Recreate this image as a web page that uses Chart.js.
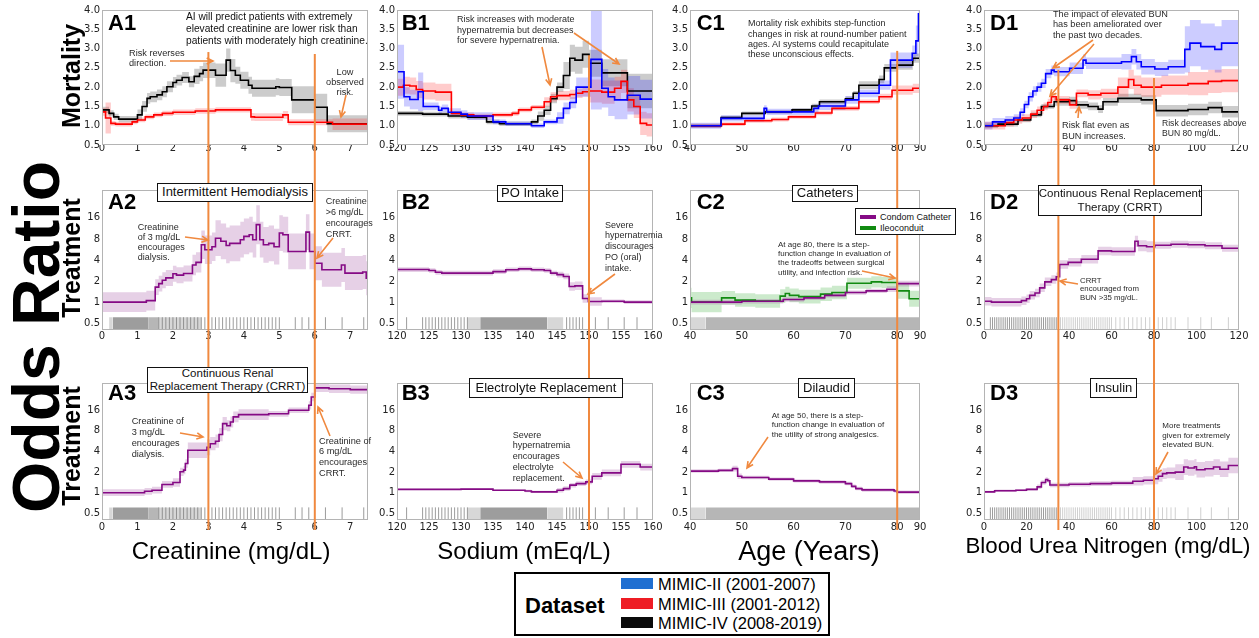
<!DOCTYPE html>
<html>
<head>
<meta charset="utf-8">
<script src="https://cdn.jsdelivr.net/npm/chart.js@4.4.1/dist/chart.umd.min.js"></script>
<style>
  body { margin: 0; width: 1259px; height: 638px; overflow: hidden; position: relative; background: #fff;
         font-family: 'Liberation Sans', Arial, sans-serif; }
  canvas { position: absolute; z-index: 1; }
  #arrows { position: absolute; left: 0; top: 0; z-index: 2; }
  .note { position: absolute; z-index: 3; white-space: pre; color: #2a2a2a; }
  .box { position: absolute; z-index: 3; background: #fff; border: 1px solid #111; box-sizing: border-box;
         display: flex; align-items: center; justify-content: center; text-align: center; white-space: pre; color: #111; }
  .plab { position: absolute; z-index: 3; font-weight: bold; line-height: 1; color: #000; }
  .rot { position: absolute; z-index: 3; font-weight: bold; white-space: nowrap; transform: translate(-50%, -50%) rotate(-90deg); line-height: 1; }
  .xt { position: absolute; z-index: 3; white-space: nowrap; transform: translate(-50%, -50%); line-height: 1; color: #000; }
  #legend { position: absolute; left: 514px; top: 572px; width: 316px; height: 64px; border: 2px solid #000;
            box-sizing: border-box; z-index: 3; background: #fff; }
  #legend .ds { position: absolute; left: 9px; top: 21px; font-weight: bold; font-size: 22px; line-height: 1; }
  #legend .sw { position: absolute; left: 105px; width: 32px; height: 11px; }
  #legend .lt { position: absolute; left: 142px; font-size: 16.5px; line-height: 1; white-space: nowrap; }
  #catleg { position: absolute; left: 855px; top: 208px; width: 101px; height: 27px; border: 1px solid #111;
            box-sizing: border-box; background: #fff; z-index: 3; font-size: 9px; }
  #catleg .sw { position: absolute; left: 4px; width: 16px; height: 4px; }
  #catleg .lt { position: absolute; left: 24px; line-height: 1; white-space: nowrap; color: #111; }
</style>
</head>
<body>
<svg id="arrows" width="1259" height="638"></svg>
<script>
(function () {
  'use strict';

  var FRAME = '#b4b4b4', ORANGE = '#f0893f';
  var BLUE = '#0000ff', RED = '#ff0000', BLACK = '#000000', PURPLE = '#850a85', GREEN = '#118a11';
  var BLUE_BAND = 'rgba(0,0,255,0.2)', RED_BAND = 'rgba(255,0,0,0.2)', BLACK_BAND = 'rgba(0,0,0,0.2)',
      PURPLE_BAND = 'rgba(140,40,140,0.22)', GREEN_BAND = 'rgba(0,150,0,0.2)';

  /* ---------- data: step starts [x, y]; CI as [x, half width] (row 1) or [x, factor] (rows 2-3) ---------- */
  // Row 1: mortality odds ratio
  var a1Red   = [[0,1.36],[0.1,1.2],[0.25,1.06],[0.38,1.04],[0.85,1.1],[1.0,1.15],[1.22,1.23],[1.46,1.28],[1.7,1.32],[2.0,1.35],[2.63,1.38],[3.2,1.41],[4.2,1.23],[4.3,1.22],[5.1,1.28],[5.25,1.09],[6.5,1.04],[7.5,1.04]];
  var a1RedCI = [[0,0.1],[0.1,0.4],[0.25,0.06],[1.5,0.07],[4.2,0.1],[5.25,0.08],[6.5,0.15]];
  var a1Black = [[0,1.41],[0.2,1.32],[0.33,1.23],[0.47,1.17],[1.0,1.28],[1.13,1.5],[1.27,1.71],[1.36,1.75],[1.55,1.8],[1.7,1.88],[1.83,2.01],[2.0,2.12],[2.1,2.18],[2.26,2.25],[2.45,2.14],[2.6,2.28],[2.75,2.35],[2.85,2.44],[3.2,2.31],[3.5,2.7],[3.62,2.43],[3.76,2.31],[3.9,2.18],[4.13,2.05],[4.23,1.97],[4.9,2.01],[5.0,1.99],[5.35,1.67],[6.0,1.48],[6.35,1.05],[7.5,1.06]];
  var a1BlackCI = [[0,0.08],[1.0,0.14],[2.5,0.2],[3.2,0.3],[3.7,0.22],[5.35,0.35],[6.35,0.22]];

  var b1Blue   = [[120,2.4],[121.1,1.75],[122,1.68],[123.3,1.88],[124.1,1.5],[126.5,1.4],[127,1.45],[128,1.35],[130,1.3],[131,1.25],[135,1.1],[137,1.05],[141,1.0],[143,1.1],[145,1.2],[146,1.45],[147,1.6],[148,2.0],[150.3,2.72],[152,1.97],[153,1.75],[154,1.67],[156,1.79],[158,1.69],[160,1.69]];
  var b1BlueCI = [[120,0.7],[121.1,0.25],[123.3,0.5],[124.1,0.1],[135,0.06],[145,0.15],[148,0.25],[150.3,1.3],[151.5,0.5]];
  var b1Red    = [[120,2.0],[121,2.05],[122,2.03],[123,1.94],[124,1.9],[126,1.87],[128.5,1.32],[130,1.28],[132,1.25],[135,1.28],[138,1.32],[139,1.41],[141,1.48],[143,1.62],[144,1.75],[145,1.78],[147,1.81],[148,1.84],[149,1.88],[150,1.9],[152,1.87],[154,1.97],[155,2.15],[156,1.67],[157,1.5],[158,1.06],[159,1.02],[160,1.02]];
  var b1RedCI  = [[120,0.22],[128.5,0.06],[143,0.12],[150,0.3]];
  var b1Black  = [[120,1.32],[124,1.3],[128,1.25],[131,1.22],[134,1.1],[136,1.05],[141,1.1],[142,1.25],[143,1.4],[144,1.7],[145,2.0],[146,2.3],[147,2.75],[147.8,2.7],[149,2.85],[150,2.62],[152,2.37],[156,1.9],[160,1.9]];
  var b1BlackCI = [[120,0.06],[142,0.12],[146,0.35],[156,0.45]];

  var c1Blue   = [[40,1.0],[46,1.19],[54.3,1.45],[54.8,1.36],[63.9,1.45],[64.8,1.51],[70,1.67],[72.6,1.84],[76.5,2.05],[78.7,2.7],[82.9,2.88],[83.6,3.2],[84.1,3.9],[84.4,3.9]];
  var c1BlueCI = [[40,0.08],[60,0.1],[75,0.12],[78.7,0.2],[83,0.4]];
  var c1Red    = [[40,1.0],[46.1,1.04],[50.6,1.13],[55.8,1.16],[59,1.23],[64.2,1.33],[67.4,1.45],[72.6,1.62],[76.5,1.75],[79,1.92],[83,1.97],[84.4,1.97]];
  var c1RedCI  = [[40,0.05],[60,0.06],[74,0.08],[79,0.12]];
  var c1Black  = [[40,1.0],[46,1.21],[50,1.32],[54.5,1.36],[59.7,1.41],[63.5,1.51],[65,1.62],[70,1.7],[71.5,1.84],[72.6,2.05],[76.5,2.2],[77.5,2.5],[80,2.57],[83,2.75],[84.4,2.8]];
  var c1BlackCI = [[40,0.05],[60,0.06],[72,0.1],[78,0.12]];

  var d1Blue   = [[0,1.0],[4,1.1],[10,1.15],[14,1.2],[17,1.35],[19,1.55],[21,1.75],[23,1.9],[25,2.0],[27,2.1],[29,2.35],[31.7,2.44],[33,2.4],[40.3,2.49],[46.6,2.7],[48,2.62],[64.7,2.66],[69.4,2.79],[71.7,2.66],[74,2.53],[80.4,2.47],[86.7,2.53],[94.5,2.98],[96.9,3.14],[102,3.05],[108.6,2.98],[111.8,3.14],[120,3.12]];
  var d1BlueCI = [[0,0.1],[20,0.12],[40,0.15],[60,0.2],[80,0.18],[94.5,0.6]];
  var d1Red    = [[0,1.0],[10,1.08],[14,1.15],[18,1.2],[22,1.3],[25,1.4],[28,1.5],[30,1.6],[31.7,1.75],[34,1.67],[40.3,1.54],[43.5,1.84],[49,1.8],[55,1.84],[63,2.0],[68,2.2],[70.5,2.05],[74,2.0],[83.5,2.05],[96,2.09],[105.5,2.15],[111.8,2.17],[120,2.17]];
  var d1RedCI  = [[0,0.1],[30,0.1],[45,0.12],[60,0.25],[95,0.3]];
  var d1Black  = [[0,1.0],[6.6,1.04],[16,1.15],[22,1.28],[27,1.5],[33,1.62],[40,1.65],[43.5,1.54],[49,1.5],[53.7,1.43],[56,1.62],[63,1.71],[74,1.67],[81,1.39],[96,1.42],[105.5,1.47],[112,1.36],[120,1.36]];
  var d1BlackCI = [[0,0.06],[30,0.1],[60,0.12],[81,0.15]];

  // Row 2: treatment odds ratio
  var a2Hemo   = [[0,1.0],[1.25,1.05],[1.5,1.64],[1.6,1.84],[1.7,2.05],[1.8,2.22],[2.0,2.54],[2.1,2.43],[2.3,2.56],[2.55,3.4],[2.65,3.7],[2.8,6.6],[2.9,5.6],[3.1,6.2],[3.2,8.2],[3.35,7.4],[3.5,6.45],[3.6,6.9],[3.9,7.8],[4.0,8.7],[4.15,9.2],[4.25,7.8],[4.35,12.8],[4.45,7.8],[4.55,6.6],[4.7,6.9],[4.85,6.2],[5.0,9.7],[5.1,9.2],[5.25,5.3],[5.75,10.0],[5.85,5.3],[6.0,3.6],[6.2,2.9],[6.75,3.4],[6.85,2.6],[7.35,2.7],[7.45,2.2],[7.5,2.2]];
  var a2HemoCI = [[0,1.38],[1.5,1.3],[2.5,1.4],[2.8,1.6],[3.2,1.8],[4.35,1.9],[4.45,1.8],[6.0,1.75]];
  var b2Po     = [[120,2.92],[125,2.83],[126,2.67],[127,2.6],[135,2.73],[137,2.9],[139,2.99],[141,2.9],[143,2.83],[144,2.6],[145,2.47],[146,2.33],[146.9,1.67],[147.8,1.71],[149,1.13],[149.9,1.02],[152,1.03],[155.5,1.0],[160,1.0]];
  var b2PoCI   = [[120,1.08],[145,1.1],[146.5,1.15],[150,1.06]];
  var c2Condom = [[40,1.0],[50,1.03],[58,1.09],[62,1.15],[66,1.25],[70,1.37],[74,1.45],[78,1.53],[80,1.84],[84.4,1.84]];
  var c2CondomCI = [[40,1.08],[60,1.07],[75,1.1]];
  var c2Ileo   = [[40,1.15],[40.3,1.0],[46.1,1.15],[48.7,1.07],[52.6,1.04],[57.4,1.22],[58.4,1.33],[59.2,1.25],[61,1.2],[65.2,1.3],[67.4,1.37],[70.3,1.86],[75,1.95],[77,1.91],[80,1.45],[82.3,1.12],[84.4,1.12]];
  var c2IleoCI = [[40,1.4],[46,1.25],[56,1.25],[70,1.2],[80,1.3]];
  var d2Crrt   = [[0,1.03],[3.5,1.0],[17.6,1.05],[20,1.12],[21.5,1.25],[24,1.35],[26.2,1.6],[28.6,1.95],[31.7,2.1],[34,2.3],[35.6,3.45],[39.6,3.7],[45.8,4.1],[53.7,5.4],[60,5.3],[71,7.4],[72.5,6.4],[76.5,6.2],[80.4,6.5],[88,6.7],[96,6.6],[104,6.4],[112,5.9],[120,5.9]];
  var d2CrrtCI = [[0,1.15],[70,1.2],[80,1.12]];

  // Row 3: treatment odds ratio
  var a3Crrt   = [[0,1.0],[1.2,1.05],[1.41,1.09],[1.69,1.32],[2.0,1.41],[2.2,2.02],[2.3,2.14],[2.35,2.67],[2.42,4.18],[2.96,4.6],[3.05,5.2],[3.2,5.65],[3.3,7.07],[3.4,10.2],[3.52,9.5],[3.62,10.8],[3.7,12.8],[3.85,13.8],[4.7,14.2],[5.26,16.0],[5.83,18.9],[5.9,25],[6.0,34],[6.4,33],[7.0,32],[7.5,32]];
  var a3CrrtCI = [[0,1.12],[1.5,1.12],[2.0,1.15],[2.4,1.3],[3.0,1.25],[3.5,1.2],[4.0,1.1],[5.5,1.15]];
  var b3Lytes  = [[120,1.12],[130,1.13],[135,1.09],[140,1.06],[141,1.03],[145,1.09],[146,1.15],[147,1.29],[148,1.36],[149.5,1.44],[150.5,1.74],[152,1.95],[155,2.6],[158,2.37],[160,2.37]];
  var b3LytesCI = [[120,1.02],[140,1.04],[145,1.08],[150,1.12]];
  var c3Dilaudid = [[40,2.07],[45.5,2.12],[48.2,2.25],[49.2,1.74],[50,1.67],[55.2,1.58],[60,1.49],[65,1.44],[70,1.36],[71.2,1.24],[72,1.15],[73.2,1.1],[79.4,1.06],[80,1.02],[84.4,1.02]];
  var c3DilaudidCI = [[40,1.06],[48,1.1],[50,1.06]];
  var d3Insulin = [[0,1.03],[5,1.07],[15,1.09],[20,1.12],[25,1.22],[27,1.41],[29,1.56],[30,1.5],[31,1.3],[40,1.33],[50,1.36],[60,1.38],[70,1.47],[75,1.52],[80,1.6],[82,1.74],[84,1.9],[86,1.95],[90,2.0],[94,2.37],[96,2.3],[99,2.4],[100,2.17],[104,2.24],[108,2.37],[111,2.2],[115,2.5],[120,2.55]];
  var d3InsulinCI = [[0,1.04],[25,1.08],[70,1.15],[80,1.2],[90,1.3]];

  // Rug of observed values: dense ranges [x0, x1, density level 1-3] and single ticks
  var creatRugDense = [[0.2,0.3,1],[0.3,1.3,3],[1.3,1.6,2],[1.6,2.8,1]];
  var creatRugTicks = [1.6,1.7,1.8,1.9,2.0,2.1,2.2,2.3,2.4,2.5,2.6,2.7,2.8,2.9,3.0,3.1,3.2,3.3,3.4,3.5,3.6,3.7,3.8,3.9,4.0,4.1,4.2,4.3,4.4,4.5,4.6,4.7,4.8,4.9,5.0,5.45,5.64,5.83,6.3,6.77,7.38];
  var sodiumRugDense = [[131,133,1],[133,143.5,3],[143.5,146,1]];
  var sodiumRugTicks = [121.5,124,124.5,125,125.5,126,126.5,127,127.5,128,128.5,129,129.5,130,130.5,131,146.5,147,147.5,148,148.5,149,150,151,153,155.5,157.5];
  var ageRugDense = [[40,43,1],[43,84.4,2]];
  var ageRugTicks = [];
  var bunRugDense = [];
  var bunRugTicks = [3,4,5,6,7,8,9,10,11,12,13,14,15,16,17,18,19,20,21,22,23,24,25,26,27,28,29,30,31,32,33,34];
  var bunRugTicksLight = [35,36,37,38,39,40,41,42,43,44,45,46,47,48,49,50,51,52,53,54,55,56,57,58,59,60,62,64,66,68,70,72,74,76,78,80,82,84,86,88,90,96,102,107,115];

  // Axis ticks
  var creatTicks = [0,1,2,3,4,5,6,7];
  var sodiumTicks = [120,125,130,135,140,145,150,155,160];
  var ageTicks = [40,50,60,70,80,84.4];
  var ageTickLabels = ['40','50','60','70','80','90'];
  var bunTicks = [0,20,40,60,80,100,120];
  var mortTicks = [0.5,1.0,1.5,2.0,2.5,3.0,3.5,4.0];
  var orTicks = [0.5,1,2,4,8,16];

  /* ---------- layout ---------- */
  var COLS = [
    { l: 102, r: 368, min: 0, max: 7.5, ticks: creatTicks, guides: [3, 6], tops: [2.91, 2.86] },
    { l: 397, r: 653, min: 120, max: 160, ticks: sodiumTicks, guides: [150], tops: [2.83] },
    { l: 690, r: 920, min: 40, max: 84.4, ticks: ageTicks, labels: ageTickLabels, guides: [80], tops: [2.94] },
    { l: 984, r: 1239, min: 0, max: 120, ticks: bunTicks, guides: [35, 80], tops: [2.45, 2.24] }
  ];
  var ROWS = [
    { t: 10, b: 145, ct: 0, cb: 165, pad: -3 },
    { t: 190, b: 330, ct: 165, cb: 350, pad: 0 },
    { t: 383, b: 520, ct: 350, cb: 540, pad: 1 }
  ];

  Chart.defaults.font.family = "'DejaVu Sans', sans-serif";
  Chart.defaults.font.size = 10;
  Chart.defaults.color = '#222';

  function ciAt(ci, x) {
    var h = ci[0][1];
    ci.forEach(function (c) { if (c[0] <= x) h = c[1]; });
    return h;
  }
  function pts(steps) { return steps.map(function (s) { return { x: s[0], y: s[1] }; }); }

  // confidence band as one closed step outline (upper edge forward, lower edge back)
  function bandShape(steps, ci, log) {
    var up = [], dn = [];
    for (var i = 0; i < steps.length - 1; i++) {
      var h = ciAt(ci, steps[i][0]), v = steps[i][1];
      var hi = log ? v * h : v + h, lo = log ? v / h : v - h;
      up.push({ x: steps[i][0], y: hi }, { x: steps[i + 1][0], y: hi });
      dn.unshift({ x: steps[i + 1][0], y: lo }, { x: steps[i][0], y: lo });
    }
    return up.concat(dn);
  }

  function series(steps, ci, line, fillc, log) {
    return [
      { data: bandShape(steps, ci, log), borderWidth: 0, pointRadius: 0, tension: 0, fill: 'shape',
        backgroundColor: fillc, order: 10 },
      { data: pts(steps), stepped: true, borderColor: line, borderWidth: 1.6, pointRadius: 0, fill: false, order: 1 }
    ];
  }

  var DENSE = { 1: 'rgba(110,110,110,0.28)', 2: 'rgba(110,110,110,0.5)', 3: 'rgba(110,110,110,0.68)' };
  function rug(dense, ticks, light) {
    var out = [];
    dense.forEach(function (d) {
      out.push({ data: [{ x: d[0], y: 0.61 }, { x: d[1], y: 0.61 }], borderWidth: 0, pointRadius: 0,
                 fill: { value: 0.41 }, backgroundColor: DENSE[d[2]], order: 20 });
    });
    [[ticks, 'rgba(90,90,90,0.6)'], [light || [], 'rgba(120,120,120,0.35)']].forEach(function (t) {
      if (!t[0].length) return;
      out.push({ data: t[0].map(function (x) { return { x: x, y: 0.5 }; }), showLine: false,
                 pointStyle: 'line', pointRotation: 90, pointRadius: 6, pointBorderColor: t[1],
                 pointBorderWidth: 1, order: 20 });
    });
    return out;
  }

  var deco = {
    id: 'deco',
    afterDatasetsDraw: function (chart, args, o) {
      var ctx = chart.ctx, a = chart.chartArea, x = chart.scales.x, y = chart.scales.y;
      ctx.save();
      ctx.strokeStyle = FRAME; ctx.lineWidth = 1;
      ctx.strokeRect(Math.round(a.left) + 0.5, Math.round(a.top) + 0.5, Math.round(a.width) - 1, Math.round(a.height) - 1);
      ctx.strokeStyle = ORANGE; ctx.lineWidth = 2;
      o.guides.forEach(function (g, i) {
        var px = x.getPixelForValue(g);
        var y0 = o.row === 0 ? y.getPixelForValue(o.tops[i]) : 0;
        var y1 = o.row === 2 ? a.bottom + 10 : chart.height;
        ctx.beginPath(); ctx.moveTo(px, y0); ctx.lineTo(px, y1); ctx.stroke();
      });
      ctx.restore();
    }
  };

  function panel(ci, ri, datasets) {
    var c = COLS[ci], r = ROWS[ri];
    var cv = document.createElement('canvas');
    var L = c.l - 32, W = c.r + 18 - L, H = r.cb - r.ct;
    cv.width = W; cv.height = H;
    cv.style.left = L + 'px'; cv.style.top = r.ct + 'px';
    document.body.appendChild(cv);
    var yAxis = ri === 0
      ? { type: 'linear', min: 0.5, max: 4.0, ticksList: mortTicks, fmt: function (v) { return v.toFixed(1); } }
      : { type: 'logarithmic', min: 0.4, max: 40, ticksList: orTicks, fmt: function (v) { return String(v); } };
    new Chart(cv, {
      type: 'line',
      data: { datasets: datasets },
      options: {
        responsive: false, animation: false, events: [],
        layout: { padding: { left: 2, right: 18, top: r.t - r.ct, bottom: 0 } },
        elements: { point: { radius: 0 } },
        plugins: { legend: { display: false }, tooltip: { enabled: false },
                   deco: { guides: c.guides, tops: c.tops, row: ri } },
        scales: {
          x: {
            type: 'linear', min: c.min, max: c.max,
            grid: { display: false, drawTicks: false }, border: { display: false },
            afterBuildTicks: function (s) { s.ticks = c.ticks.map(function (v) { return { value: v }; }); },
            afterFit: function (s) { s.height = r.cb - r.b; },
            ticks: { autoSkip: false, maxRotation: 0, padding: r.pad,
                     callback: function (v, i) { return c.labels ? c.labels[i] : String(v); } }
          },
          y: {
            type: yAxis.type, min: yAxis.min, max: yAxis.max,
            grid: { display: false, drawTicks: false }, border: { display: false },
            afterBuildTicks: function (s) { s.ticks = yAxis.ticksList.map(function (v) { return { value: v }; }); },
            afterFit: function (s) { s.width = 30; },
            ticks: { autoSkip: false, padding: 2, callback: function (v) { return yAxis.fmt(v); } }
          }
        }
      },
      plugins: [deco]
    });
  }

  function join() { return [].concat.apply([], arguments); }

  // Row 1
  panel(0, 0, join(series(a1Red, a1RedCI, RED, RED_BAND), series(a1Black, a1BlackCI, BLACK, BLACK_BAND)));
  panel(1, 0, join(series(b1Blue, b1BlueCI, BLUE, BLUE_BAND), series(b1Red, b1RedCI, RED, RED_BAND), series(b1Black, b1BlackCI, BLACK, BLACK_BAND)));
  panel(2, 0, join(series(c1Blue, c1BlueCI, BLUE, BLUE_BAND), series(c1Red, c1RedCI, RED, RED_BAND), series(c1Black, c1BlackCI, BLACK, BLACK_BAND)));
  panel(3, 0, join(series(d1Blue, d1BlueCI, BLUE, BLUE_BAND), series(d1Red, d1RedCI, RED, RED_BAND), series(d1Black, d1BlackCI, BLACK, BLACK_BAND)));
  // Row 2
  panel(0, 1, join(series(a2Hemo, a2HemoCI, PURPLE, PURPLE_BAND, true), rug(creatRugDense, creatRugTicks)));
  panel(1, 1, join(series(b2Po, b2PoCI, PURPLE, PURPLE_BAND, true), rug(sodiumRugDense, sodiumRugTicks)));
  panel(2, 1, join(series(c2Condom, c2CondomCI, PURPLE, PURPLE_BAND, true), series(c2Ileo, c2IleoCI, GREEN, GREEN_BAND, true), rug(ageRugDense, ageRugTicks)));
  panel(3, 1, join(series(d2Crrt, d2CrrtCI, PURPLE, PURPLE_BAND, true), rug(bunRugDense, bunRugTicks, bunRugTicksLight)));
  // Row 3
  panel(0, 2, join(series(a3Crrt, a3CrrtCI, PURPLE, PURPLE_BAND, true), rug(creatRugDense, creatRugTicks)));
  panel(1, 2, join(series(b3Lytes, b3LytesCI, PURPLE, PURPLE_BAND, true), rug(sodiumRugDense, sodiumRugTicks)));
  panel(2, 2, join(series(c3Dilaudid, c3DilaudidCI, PURPLE, PURPLE_BAND, true), rug(ageRugDense, ageRugTicks)));
  panel(3, 2, join(series(d3Insulin, d3InsulinCI, PURPLE, PURPLE_BAND, true), rug(bunRugDense, bunRugTicks, bunRugTicksLight)));

  /* ---------- text annotations (page pixels) ---------- */
  function el(cls, css, text) {
    var d = document.createElement('div');
    d.className = cls; d.textContent = text;
    Object.keys(css).forEach(function (k) { d.style[k] = css[k]; });
    document.body.appendChild(d);
    return d;
  }

  var NOTES = [
    [186, 16.7, 10.2, 12.2, 'AI will predict patients with extremely\nelevated creatinine are lower risk than\npatients with moderately high creatinine.', '#111'],
    [129, 53.3, 9.2, 10.2, 'Risk reverses\ndirection.'],
    [345, 71.7, 9.2, 10.2, 'Low\nobserved\nrisk.', null, 'center'],
    [457, 19.3, 9, 10.7, 'Risk increases with moderate\nhypernatremia but decreases\nfor severe hypernatremia.'],
    [748, 23.3, 9, 10.4, 'Mortality risk exhibits step-function\nchanges in risk at round-number patient\nages. AI systems could recapitulate\nthese unconscious effects.'],
    [1053, 14, 9.2, 10.8, 'The impact of elevated BUN\nhas been ameliorated over\nthe past two decades.'],
    [1062, 125, 9.2, 11, 'Risk flat even as\nBUN increases.'],
    [1162, 124.3, 8.6, 9.8, 'Risk decreases above\nBUN 80 mg/dL.'],
    [137.7, 226.7, 9, 10, 'Creatinine\nof 3 mg/dL\nencourages\ndialysis.'],
    [325.7, 201, 9, 11, 'Creatinine\n>6 mg/dL\nencourages\nCRRT.'],
    [605, 225, 9, 10.8, 'Severe\nhypernatremia\ndiscourages\nPO (oral)\nintake.'],
    [778, 244.3, 8, 9.4, 'At age 80, there is a step-\nfunction change in evaluation of\nthe tradeoffs between surgical\nutility, and infection risk.'],
    [1080, 281, 7.8, 8.4, 'CRRT\nencouraged from\nBUN >35 mg/dL.'],
    [131.7, 421.7, 9.2, 10.9, 'Creatinine of\n3 mg/dL\nencourages\ndialysis.'],
    [319, 441, 9.2, 10.8, 'Creatinine of\n6 mg/dL\nencourages\nCRRT.'],
    [512.7, 435, 9, 10.8, 'Severe\nhypernatremia\nencourages\nelectrolyte\nreplacement.'],
    [771.7, 415.7, 8, 9.3, 'At age 50, there is a step-\nfunction change in evaluation of\nthe utility of strong analgesics.'],
    [1162.3, 426, 8, 9.5, 'More treatments\ngiven for extremely\nelevated BUN.']
  ];
  NOTES.forEach(function (n) {
    var css = { left: n[0] + 'px', top: (n[1] - n[3] / 2) + 'px', fontSize: n[2] + 'px', lineHeight: n[3] + 'px' };
    if (n[5]) css.color = n[5];
    if (n[6] === 'center') { css.textAlign = 'center'; css.transform = 'translateX(-50%)'; }
    el('note', css, n[4]);
  });

  var BOXES = [
    [157, 183, 156, 19, 13, 'Intermittent Hemodialysis'],
    [497, 185, 66, 17, 13, 'PO Intake'],
    [792, 185, 66, 17, 13, 'Catheters'],
    [1038, 185, 164, 31, 11.5, 'Continuous Renal Replacement\nTherapy (CRRT)'],
    [147, 367, 161, 26, 11.5, 'Continuous Renal\nReplacement Therapy (CRRT)'],
    [469, 378, 154, 20, 13, 'Electrolyte Replacement'],
    [798, 378, 57, 20, 13, 'Dilaudid'],
    [1090, 378, 47, 20, 13, 'Insulin']
  ];
  BOXES.forEach(function (b) {
    el('box', { left: b[0] + 'px', top: b[1] + 'px', width: b[2] + 'px', height: b[3] + 'px',
                fontSize: b[4] + 'px', lineHeight: (b[4] * 1.15) + 'px' }, b[5]);
  });

  var PX = [108, 401.7, 696.7, 990], PY = [15, 193.5, 385], PFS = 22;
  ['A', 'B', 'C', 'D'].forEach(function (l, ci) {
    [1, 2, 3].forEach(function (n, ri) {
      el('plab', { left: PX[ci] + 'px', top: (PY[ri] + 0.716 * PFS - 0.8465 * PFS) + 'px', fontSize: PFS + 'px' }, l + n);
    });
  });

  el('rot', { left: '36px', top: '337px', fontSize: '66px' }, 'Odds Ratio');
  el('rot', { left: '71px', top: '76px', fontSize: '25px' }, 'Mortality');
  el('rot', { left: '71px', top: '258px', fontSize: '25px' }, 'Treatment');
  el('rot', { left: '71px', top: '446px', fontSize: '25px' }, 'Treatment');

  el('xt', { left: '231px', top: '551px', fontSize: '24px' }, 'Creatinine (mg/dL)');
  el('xt', { left: '524px', top: '551px', fontSize: '24px' }, 'Sodium (mEq/L)');
  el('xt', { left: '809px', top: '551px', fontSize: '27px' }, 'Age (Years)');
  el('xt', { left: '1108px', top: '546px', fontSize: '22.3px' }, 'Blood Urea Nitrogen (mg/dL)');

  /* ---------- arrows ---------- */
  var ARROWS = [[170,61,213,61],[346,95,341,117],[542,47,550,85],[574,33,619,64],[1093,40,1053,68],[1094,44,1050,96],
                [1078,118,1079,107],[185,237,208,240],[333,238,317,258],[615,274,588,294],[862,271,895,278],
                [1078,284,1060,281],[180,433,203,437],[330,436,318,407],[563,462,582,478],[768,437,747,468],[1168,452,1156,474]];
  var svg = document.getElementById('arrows'), NS = 'http://www.w3.org/2000/svg';
  ARROWS.forEach(function (a) {
    var ang = Math.atan2(a[3] - a[1], a[2] - a[0]), hl = 7, hw = 0.45;
    var p = document.createElementNS(NS, 'path');
    var bx1 = a[2] - hl * Math.cos(ang - hw), by1 = a[3] - hl * Math.sin(ang - hw);
    var bx2 = a[2] - hl * Math.cos(ang + hw), by2 = a[3] - hl * Math.sin(ang + hw);
    p.setAttribute('d', 'M' + a[0] + ',' + a[1] + 'L' + a[2] + ',' + a[3] + 'M' + bx1 + ',' + by1 + 'L' + a[2] + ',' + a[3] + 'L' + bx2 + ',' + by2);
    p.setAttribute('stroke', ORANGE); p.setAttribute('stroke-width', '1.6'); p.setAttribute('fill', 'none');
    svg.appendChild(p);
  });

  /* ---------- legends ---------- */
  var cat = el('', {}, ''); cat.id = 'catleg';
  [[PURPLE, 'Condom Catheter', 6], [GREEN, 'Ileoconduit', 17]].forEach(function (e) {
    var sw = document.createElement('div'); sw.className = 'sw'; sw.style.background = e[0]; sw.style.top = e[2] + 'px';
    var lt = document.createElement('div'); lt.className = 'lt'; lt.textContent = e[1]; lt.style.top = (e[2] - 2.5) + 'px';
    cat.appendChild(sw); cat.appendChild(lt);
  });

  var leg = el('', {}, ''); leg.id = 'legend';
  var ds = document.createElement('div'); ds.className = 'ds'; ds.textContent = 'Dataset'; leg.appendChild(ds);
  [['#1f6fd1', 'MIMIC-II (2001-2007)', 4], ['#ee1c24', 'MIMIC-III (2001-2012)', 24], ['#0a0a0a', 'MIMIC-IV (2008-2019)', 43]].forEach(function (e) {
    var sw = document.createElement('div'); sw.className = 'sw'; sw.style.background = e[0]; sw.style.top = e[2] + 'px';
    var lt = document.createElement('div'); lt.className = 'lt'; lt.textContent = e[1]; lt.style.top = (e[2] - 2.5) + 'px';
    leg.appendChild(sw); leg.appendChild(lt);
  });
})();
</script>
</body>
</html>
